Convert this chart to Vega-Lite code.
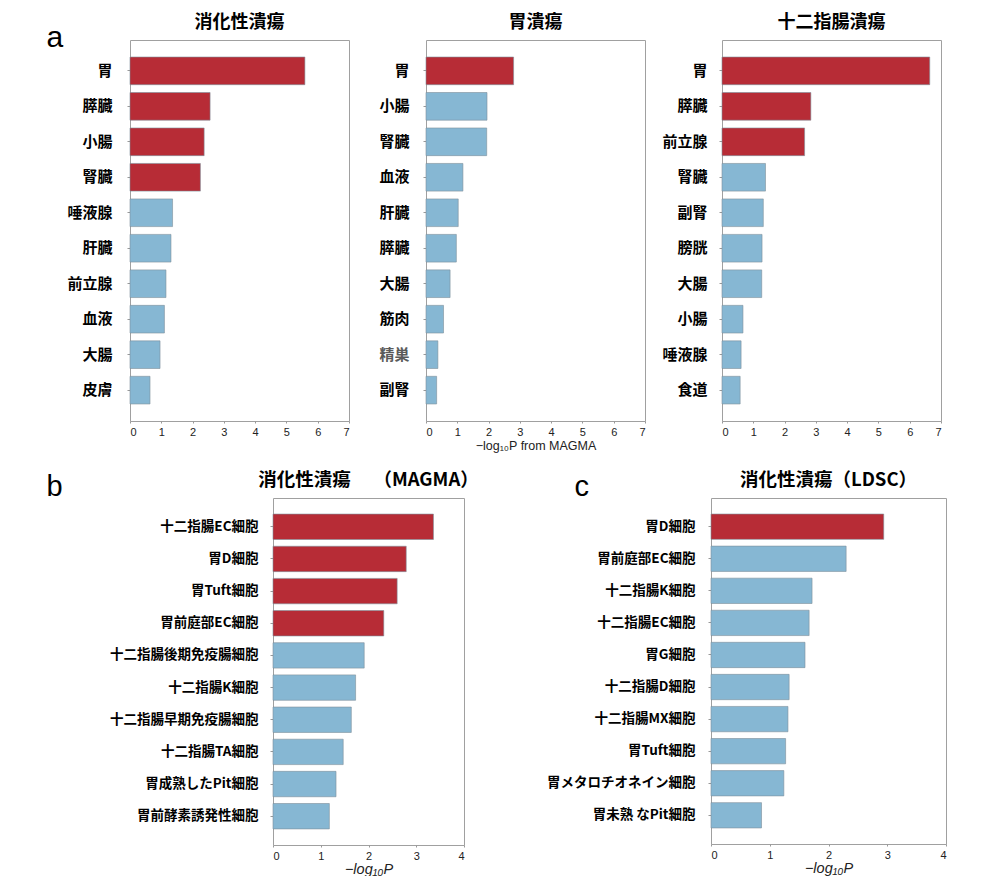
{
  "$schema": "https://vega.github.io/schema/vega-lite/v6.json",
  "background": "white",
  "autosize": {"type": "pad"},
  "padding": {"left": 46, "top": 13, "right": 0, "bottom": 0},
  "datasets": {
    "a1": [
      {"name": "胃", "p": 5.59, "sig": "yes"},
      {"name": "膵臓", "p": 2.56, "sig": "yes"},
      {"name": "小腸", "p": 2.37, "sig": "yes"},
      {"name": "腎臓", "p": 2.25, "sig": "yes"},
      {"name": "唾液腺", "p": 1.36, "sig": "no"},
      {"name": "肝臓", "p": 1.31, "sig": "no"},
      {"name": "前立腺", "p": 1.15, "sig": "no"},
      {"name": "血液", "p": 1.10, "sig": "no"},
      {"name": "大腸", "p": 0.96, "sig": "no"},
      {"name": "皮膚", "p": 0.64, "sig": "no"}
    ],
    "a2": [
      {"name": "胃", "p": 2.80, "sig": "yes"},
      {"name": "小腸", "p": 1.95, "sig": "no"},
      {"name": "腎臓", "p": 1.94, "sig": "no"},
      {"name": "血液", "p": 1.18, "sig": "no"},
      {"name": "肝臓", "p": 1.03, "sig": "no"},
      {"name": "膵臓", "p": 0.97, "sig": "no"},
      {"name": "大腸", "p": 0.77, "sig": "no"},
      {"name": "筋肉", "p": 0.56, "sig": "no"},
      {"name": "精巣", "p": 0.38, "sig": "no"},
      {"name": "副腎", "p": 0.34, "sig": "no"}
    ],
    "a3": [
      {"name": "胃", "p": 6.64, "sig": "yes"},
      {"name": "膵臓", "p": 2.84, "sig": "yes"},
      {"name": "前立腺", "p": 2.64, "sig": "yes"},
      {"name": "腎臓", "p": 1.39, "sig": "no"},
      {"name": "副腎", "p": 1.32, "sig": "no"},
      {"name": "膀胱", "p": 1.28, "sig": "no"},
      {"name": "大腸", "p": 1.27, "sig": "no"},
      {"name": "小腸", "p": 0.67, "sig": "no"},
      {"name": "唾液腺", "p": 0.61, "sig": "no"},
      {"name": "食道", "p": 0.58, "sig": "no"}
    ],
    "b": [
      {"name": "十二指腸EC細胞", "p": 3.36, "sig": "yes"},
      {"name": "胃D細胞", "p": 2.79, "sig": "yes"},
      {"name": "胃Tuft細胞", "p": 2.60, "sig": "yes"},
      {"name": "胃前庭部EC細胞", "p": 2.32, "sig": "yes"},
      {"name": "十二指腸後期免疫腸細胞", "p": 1.91, "sig": "no"},
      {"name": "十二指腸K細胞", "p": 1.73, "sig": "no"},
      {"name": "十二指腸早期免疫腸細胞", "p": 1.64, "sig": "no"},
      {"name": "十二指腸TA細胞", "p": 1.47, "sig": "no"},
      {"name": "胃成熟したPit細胞", "p": 1.32, "sig": "no"},
      {"name": "胃前酵素誘発性細胞", "p": 1.18, "sig": "no"}
    ],
    "c": [
      {"name": "胃D細胞", "p": 2.94, "sig": "yes"},
      {"name": "胃前庭部EC細胞", "p": 2.30, "sig": "no"},
      {"name": "十二指腸K細胞", "p": 1.72, "sig": "no"},
      {"name": "十二指腸EC細胞", "p": 1.67, "sig": "no"},
      {"name": "胃G細胞", "p": 1.60, "sig": "no"},
      {"name": "十二指腸D細胞", "p": 1.33, "sig": "no"},
      {"name": "十二指腸MX細胞", "p": 1.31, "sig": "no"},
      {"name": "胃Tuft細胞", "p": 1.27, "sig": "no"},
      {"name": "胃メタロチオネイン細胞", "p": 1.24, "sig": "no"},
      {"name": "胃未熟 なPit細胞", "p": 0.86, "sig": "no"}
    ],
    "blank": [{"k": ""}]
  },
  "vconcat": [
    {
      "hconcat": [
        {
          "width": 17, "height": 1,
          "view": {"stroke": null},
          "data": {"name": "blank"},
          "mark": {"type": "point", "opacity": 0},
          "encoding": {
            "y": {"field": "k", "type": "nominal",
                  "axis": {"title": "a", "labels": false, "ticks": false, "domain": false, "minExtent": 0, "maxExtent": 0,
                           "titleAngle": 0, "titleAlign": "left", "titleBaseline": "alphabetic",
                           "titleX": 0, "titleY": 6, "titleFont": "Liberation Sans", "titleFontSize": 30,
                           "titleFontWeight": "normal", "titleColor": "black"}}
          }
        },
        {
          "width": 219, "height": 381,
          "data": {"name": "a1"},
          "title": {"text": "消化性潰瘍", "offset": 8},
          "mark": {"type": "bar", "stroke": "#7d8f9a", "strokeWidth": 0.6},
          "encoding": {
            "y": {"field": "name", "type": "nominal", "sort": null,
                  "scale": {"paddingInner": 0.22, "paddingOuter": 0.48},
                  "axis": {"title": null, "labelFontSize": 15, "labelPadding": 15, "minExtent": 63}},
            "x": {"field": "p", "type": "quantitative", "scale": {"domain": [0, 7], "nice": false},
                  "axis": {"values": [0, 1, 2, 3, 4, 5, 6, 7], "title": null}},
            "color": {"field": "sig", "type": "nominal", "scale": {"domain": ["yes", "no"], "range": ["#b72c36", "#86b7d3"]}, "legend": null}
          }
        },
        {
          "width": 219, "height": 381,
          "data": {"name": "a2"},
          "title": {"text": "胃潰瘍", "offset": 8},
          "mark": {"type": "bar", "stroke": "#7d8f9a", "strokeWidth": 0.6},
          "encoding": {
            "y": {"field": "name", "type": "nominal", "sort": null,
                  "scale": {"paddingInner": 0.22, "paddingOuter": 0.48},
                  "axis": {"title": null, "labelFontSize": 15, "labelPadding": 14, "minExtent": 72,
                           "labelColor": {"condition": {"test": "datum.value === '精巣'", "value": "#5a5a5a"}, "value": "black"}}},
            "x": {"field": "p", "type": "quantitative", "scale": {"domain": [0, 7], "nice": false},
                  "axis": {"values": [0, 1, 2, 3, 4, 5, 6, 7], "title": "−log₁₀P from MAGMA", "titleFontSize": 12.5, "titlePadding": 2}},
            "color": {"field": "sig", "type": "nominal", "scale": {"domain": ["yes", "no"], "range": ["#b72c36", "#86b7d3"]}, "legend": null}
          }
        },
        {
          "width": 219, "height": 381,
          "data": {"name": "a3"},
          "title": {"text": "十二指腸潰瘍", "offset": 8},
          "mark": {"type": "bar", "stroke": "#7d8f9a", "strokeWidth": 0.6},
          "encoding": {
            "y": {"field": "name", "type": "nominal", "sort": null,
                  "scale": {"paddingInner": 0.22, "paddingOuter": 0.48},
                  "axis": {"title": null, "labelFontSize": 15, "labelPadding": 12, "minExtent": 72}},
            "x": {"field": "p", "type": "quantitative", "scale": {"domain": [0, 7], "nice": false},
                  "axis": {"values": [0, 1, 2, 3, 4, 5, 6, 7], "title": null}},
            "color": {"field": "sig", "type": "nominal", "scale": {"domain": ["yes", "no"], "range": ["#b72c36", "#86b7d3"]}, "legend": null}
          }
        }
      ],
      "spacing": 3
    },
    {
      "hconcat": [
        {
          "width": 17, "height": 1,
          "view": {"stroke": null},
          "data": {"name": "blank"},
          "mark": {"type": "point", "opacity": 0},
          "encoding": {
            "y": {"field": "k", "type": "nominal",
                  "axis": {"title": "b", "labels": false, "ticks": false, "domain": false, "minExtent": 0, "maxExtent": 0,
                           "titleAngle": 0, "titleAlign": "left", "titleBaseline": "alphabetic",
                           "titleX": 0, "titleY": -3, "titleFont": "Liberation Sans", "titleFontSize": 29,
                           "titleFontWeight": "normal", "titleColor": "black"}}
          }
        },
        {
          "width": 191, "height": 347,
          "data": {"name": "b"},
          "title": {"text": "消化性潰瘍　 （MAGMA）", "offset": 9, "fontSize": 18.5},
          "mark": {"type": "bar", "stroke": "#7d8f9a", "strokeWidth": 0.6},
          "encoding": {
            "y": {"field": "name", "type": "nominal", "sort": null,
                  "scale": {"paddingInner": 0.21, "paddingOuter": 0.5},
                  "axis": {"title": null, "labelFontSize": 13.5, "labelPadding": 12, "minExtent": 206}},
            "x": {"field": "p", "type": "quantitative", "scale": {"domain": [0, 4], "nice": false},
                  "axis": {"values": [0, 1, 2, 3, 4], "title": "−log₁₀P", "titleFontStyle": "italic", "titleFontSize": 14.5}},
            "color": {"field": "sig", "type": "nominal", "scale": {"domain": ["yes", "no"], "range": ["#b72c36", "#86b7d3"]}, "legend": null}
          }
        },
        {
          "width": 235, "height": 346,
          "data": {"name": "c"},
          "title": {"text": "消化性潰瘍（LDSC）", "offset": 9, "dy": 26, "fontSize": 18.5},
          "mark": {"type": "bar", "stroke": "#7d8f9a", "strokeWidth": 0.6},
          "encoding": {
            "y": {"field": "name", "type": "nominal", "sort": null,
                  "scale": {"paddingInner": 0.21, "paddingOuter": 0.5},
                  "axis": {"title": "c", "titleAngle": 0, "titleAlign": "left", "titleBaseline": "alphabetic",
                           "titleX": -137, "titleY": -3, "titleFont": "Liberation Sans", "titleFontSize": 29,
                           "titleFontWeight": "normal", "titleColor": "black", "labelFontSize": 13.5, "labelPadding": 13, "minExtent": 227}},
            "x": {"field": "p", "type": "quantitative", "scale": {"domain": [0, 4], "nice": false},
                  "axis": {"values": [0, 1, 2, 3, 4], "title": "−log₁₀P", "titleFontStyle": "italic", "titleFontSize": 14.5}},
            "color": {"field": "sig", "type": "nominal", "scale": {"domain": ["yes", "no"], "range": ["#b72c36", "#86b7d3"]}, "legend": null}
          }
        }
      ],
      "spacing": 3
    }
  ],
  "spacing": 18,
  "config": {
    "view": {"stroke": "#a0a0a0", "strokeWidth": 1},
    "axis": {"domain": false, "grid": false, "tickColor": "#999999", "tickSize": 3, "tickWidth": 1},
    "axisX": {"labelFont": "Liberation Sans", "labelFontSize": 11, "labelColor": "#222222", "tickSize": 2, "labelPadding": 3,
              "titleFont": "Liberation Sans", "titleFontSize": 12, "titleFontWeight": "normal", "titleColor": "#222222", "titlePadding": 1},
    "axisY": {"labelFont": "Noto Sans CJK JP", "labelFontWeight": "bold", "labelColor": "black", "labelLimit": 300},
    "title": {"font": "Noto Sans CJK JP", "fontSize": 18, "fontWeight": "bold", "color": "black", "baseline": "alphabetic", "frame": "group", "anchor": "middle"}
  }
}
